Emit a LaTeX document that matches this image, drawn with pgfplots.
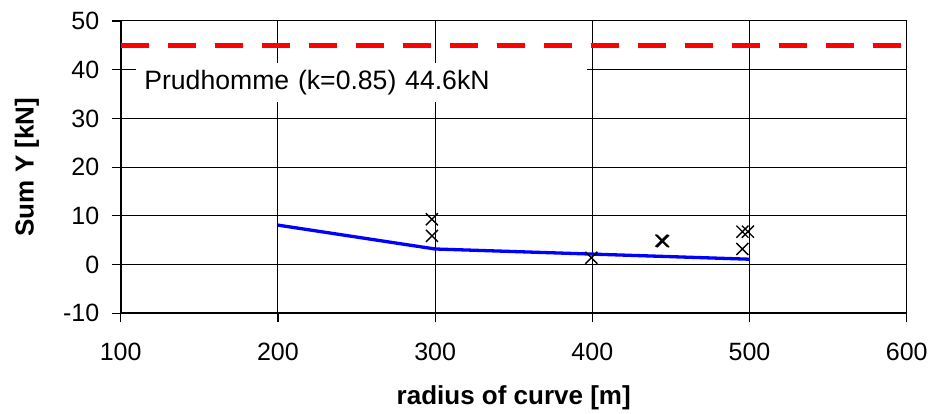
\documentclass[border=0pt]{standalone}
\usepackage{pgfplots}
\pgfplotsset{compat=1.18}
\usepackage{fontspec}
\setmainfont{Liberation Sans}
\definecolor{myred}{RGB}{255,0,0}
\definecolor{myblue}{RGB}{0,0,255}
\begin{document}
\begin{tikzpicture}
\begin{axis}[
  scale only axis,
  width=393pt, height=146.15pt,
  xmin=100, xmax=600, ymin=-10, ymax=50,
  xtick={100,200,...,600},
  ytick={-10,0,...,50},
  grid=major,
  major grid style={black, line width=0.5pt},
  axis line style={black, line width=1pt},
  axis x line*=bottom, axis y line*=left,
  tick align=outside,
  major tick length=4.5pt,
  tick style={black, line width=0.6pt},
  /pgf/number format/assume math mode=true,
  tick label style={font=\fontsize{12.5}{14}\selectfont},
  xticklabel style={anchor=north, yshift=-7pt},
  yticklabel style={anchor=east, xshift=-2.7pt},
  xlabel={radius of curve [m]},
  ylabel={Sum Y [kN]},
  label style={font=\fontsize{13}{15}\selectfont\bfseries},
  xlabel style={at={(axis description cs:0.5,-0.29)}, anchor=center},
  ylabel style={at={(axis description cs:-0.1192,0.5)}, anchor=center, rotate=0},
]
% Prudhomme limit
\addplot[myred, line width=2.65pt, dash pattern=on 14pt off 9.5pt] coordinates {(100,45) (600,45)};
% model curve
\addplot[myblue, line width=1.65pt] coordinates {(200,8.1) (300,3.2) (400,2.15) (500,1.1)};
% measurements
\addplot[only marks, mark=x, mark size=4.25pt, black, mark options={line width=0.7pt}] coordinates {
  (298,9.3) (298,5.9) (399.4,1.4) (444,4.9) (445,4.8) (444.6,4.85) (495.5,6.75) (499,6.75) (495.5,3.2)
};
\node[fill=white, anchor=west, minimum width=225.5pt, minimum height=19.5pt, inner xsep=4pt, align=left, text width=217.5pt, font=\fontsize{13.3}{15}\selectfont] at (axis cs:109.7,37.4) {Prudhomme (k=0.85) 44.6kN};
\coordinate (bl) at (rel axis cs:0,0);
\coordinate (tr) at (rel axis cs:1,1);
\end{axis}
\pgfresetboundingbox
\path ([xshift=-60.35pt,yshift=-50.35pt]bl) rectangle ([xshift=13.15pt,yshift=10.5pt]tr);
\end{tikzpicture}
\end{document}
